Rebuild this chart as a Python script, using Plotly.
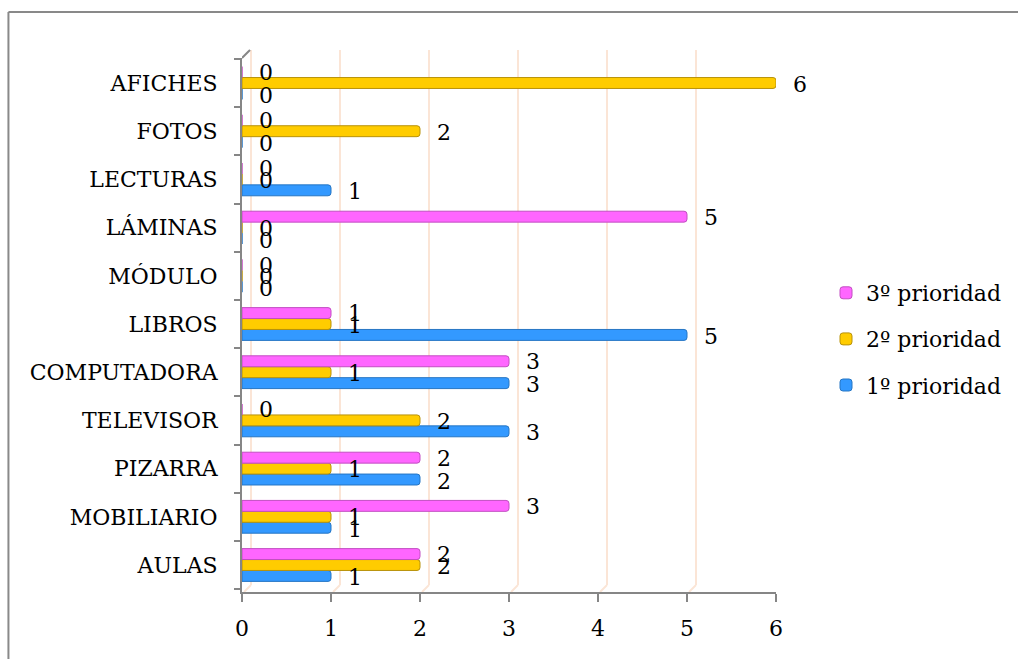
import plotly.graph_objects as go

categories = ["AULAS", "MOBILIARIO", "PIZARRA", "TELEVISOR", "COMPUTADORA", "LIBROS",
              "MÓDULO", "LÁMINAS", "LECTURAS", "FOTOS", "AFICHES"]
prioridad_1 = [1, 1, 2, 3, 3, 5, 0, 0, 1, 0, 0]
prioridad_2 = [2, 1, 1, 2, 1, 1, 0, 0, 0, 2, 6]
prioridad_3 = [2, 3, 2, 0, 3, 1, 0, 5, 0, 0, 0]
series_names = ["1º prioridad", "2º prioridad", "3º prioridad"]
x_ticks = [0, 1, 2, 3, 4, 5, 6]

series_values = [prioridad_1, prioridad_2, prioridad_3]
fills = ["#3399FF", "#FFCC00", "#FF66FF"]
edges = ["#2676C4", "#B8920A", "#C24FC2"]

W, H = 1018, 659
L, R, T, B = 242, 241, 58, 67
pw, ph = W - L - R, H - T - B

FONT = "DejaVu Serif"
FS = 22

fig = go.Figure()
for i, (name, vals) in enumerate(zip(series_names, series_values)):
    fig.add_trace(go.Bar(
        y=categories, x=vals, name=name, orientation="h",
        marker=dict(color=fills[i], line=dict(color=edges[i], width=1), cornerradius=3),
        legendgroup=name, legendrank=3 - i,
    ))

annotations = []
for i, vals in enumerate(series_values):
    for cat, v in zip(categories, vals):
        annotations.append(dict(
            x=v, y=cat, xref="x", yref="y", text=str(v), showarrow=False,
            xanchor="left", yanchor="middle", xshift=15, yshift=(i - 1) * 11.5 - 1,
            font=dict(family=FONT, size=FS, color="black"),
        ))

shapes = []
grid_col = "#FBE5D6"
for k in x_ticks:
    shapes.append(dict(type="line", xref="x", yref="paper", xsizemode="pixel", xanchor=k,
                       x0=9, x1=9, y0=7 / ph, y1=1 + 8 / ph,
                       line=dict(color=grid_col, width=2), layer="below"))
    shapes.append(dict(type="line", xref="x", yref="paper", xsizemode="pixel", xanchor=k,
                       x0=9, x1=2, y0=7 / ph, y1=0,
                       line=dict(color=grid_col, width=2), layer="below"))
# 3D corner at top of y axis
shapes.append(dict(type="line", xref="x", yref="paper", xsizemode="pixel", xanchor=0,
                   x0=0, x1=8, y0=1, y1=1 + 8 / ph, line=dict(color="#868686", width=2)))
# outer frame (top and left edges)
fx = (8 - L) / pw
fy_top = (H - B - 12) / ph
fy_bot = (H - B - H - 5) / ph
shapes.append(dict(type="line", xref="paper", yref="paper", x0=fx, x1=(W + 5 - L) / pw,
                   y0=fy_top, y1=fy_top, line=dict(color="#898989", width=2)))
shapes.append(dict(type="line", xref="paper", yref="paper", x0=fx, x1=fx,
                   y0=fy_top, y1=fy_bot, line=dict(color="#898989", width=2)))

fig.update_layout(
    width=W, height=H,
    margin=dict(l=L, r=R, t=T, b=B, pad=0),
    paper_bgcolor="white", plot_bgcolor="rgba(0,0,0,0)",
    barmode="group", bargap=0.32, bargroupgap=0,
    font=dict(family=FONT, size=FS, color="black"),
    showlegend=True,
    legend=dict(
        x=(826 - L) / pw, xanchor="left", y=(H - B - 272) / ph, yanchor="top",
        traceorder="grouped", tracegroupgap=14.5,
        font=dict(family=FONT, size=FS, color="black"), bgcolor="rgba(0,0,0,0)",
    ),
    xaxis=dict(
        range=[0, 6], tickvals=x_ticks, ticktext=[str(t) for t in x_ticks],
        showgrid=False, zeroline=False, showline=True, linecolor="#868686", linewidth=2,
        ticks="outside", ticklen=8, tickwidth=2, tickcolor="#868686",
        ticklabelstandoff=8, fixedrange=True,
    ),
    yaxis=dict(
        categoryorder="array", categoryarray=categories,
        showgrid=False, zeroline=False, showline=True, linecolor="#868686", linewidth=2,
        ticks="outside", ticklen=6, tickwidth=2, tickcolor="#868686", tickson="boundaries",
        ticklabelstandoff=18, fixedrange=True,
    ),
    annotations=annotations,
    shapes=shapes,
)

fig.write_html("out.html", config={"displayModeBar": False},
               post_script="document.body.style.margin='0';document.body.style.overflow='hidden';")
